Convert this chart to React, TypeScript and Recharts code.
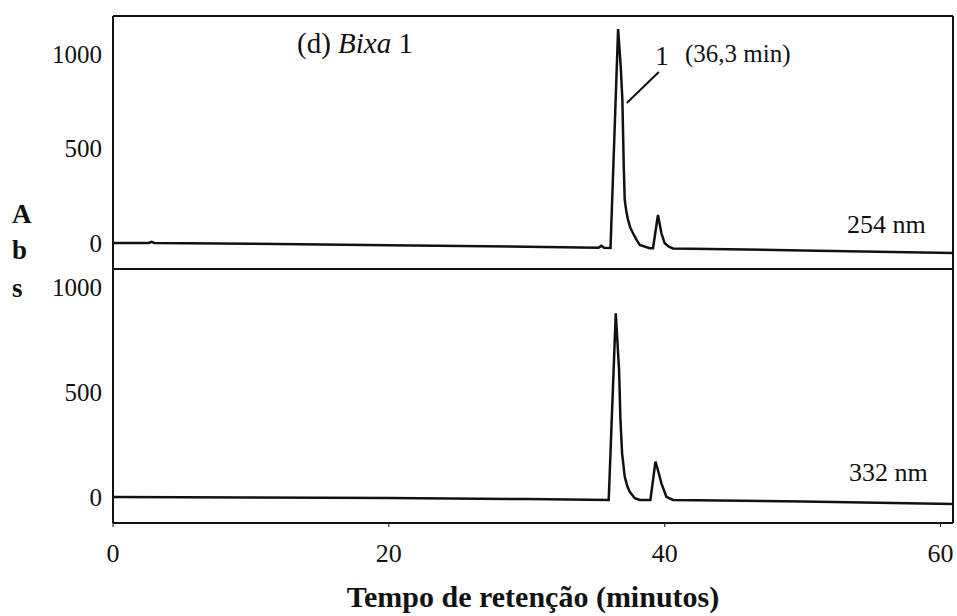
import React from "react";
import { LineChart, Line, XAxis, YAxis, ReferenceLine } from "recharts";

// retention time (min) and absorbance
const TIME_254 = [0, 2.6, 2.8, 3.0, 10, 20, 30, 35.2, 35.41, 35.6, 36.07, 36.62, 36.81, 36.93, 37.03, 37.1, 37.22, 37.34, 37.5, 37.7, 37.95, 38.19, 38.91, 39.15, 39.51, 39.76, 40.0, 40.3, 40.6, 50, 60.9];
const ABS_254 = [0, 0, 6, 0, -4, -12, -20, -25, -15, -26, -27, 1132, 933, 757, 404, 228, 165, 122, 82, 51, 18, -11, -28, -28, 148, 51, -2, -20, -29, -40, -53];

// same for the 332 nm trace
const TIME_332 = [0, 10, 20, 30, 35.94, 36.45, 36.69, 36.79, 36.91, 37.1, 37.28, 37.46, 37.83, 38.19, 38.96, 39.33, 39.57, 39.76, 40.12, 40.6, 50, 60.9];
const ABS_332 = [0, -2, -5, -10, -14, 875, 605, 367, 208, 97, 52, 25, -6, -14, -14, 168, 113, 65, 1, -14, -22, -33];

const X_TICKS = [0, 20, 40, 60];
const Y_TICKS = [0, 500, 1000];

const X_DOMAIN: [number, number] = [0, 60.9];
const TOP_DOMAIN: [number, number] = [-138, 1201];
const BOTTOM_DOMAIN: [number, number] = [-124, 1086];

const data254 = TIME_254.map((t, i) => ({ t, abs: ABS_254[i] }));
const data332 = TIME_332.map((t, i) => ({ t, abs: ABS_332[i] }));

const FONT = '"Liberation Serif", "Times New Roman", serif';
const INK = "#111";

const YTick = (props: any) => {
  const { x, y, payload } = props;
  return (
    <text x={x - 11} y={y} dy="0.36em" textAnchor="end" fontSize={25} fontFamily={FONT} fill={INK}>
      {payload.value}
    </text>
  );
};

const XTick = (props: any) => {
  const { x, y, payload } = props;
  return (
    <text x={x} y={y + 35} textAnchor="middle" fontSize={26} fontFamily={FONT} fill={INK}>
      {payload.value}
    </text>
  );
};

export default function App() {
  return (
    <div style={{ position: "absolute", left: 0, top: 0, width: 957, height: 616, background: "#fff" }}>
      {/* 254 nm panel */}
      <div style={{ position: "absolute", left: 0, top: 0 }}>
        <LineChart width={957} height={272} data={data254} margin={{ top: 16, right: 4, bottom: 3, left: 0 }}>
          <XAxis type="number" dataKey="t" domain={X_DOMAIN} hide />
          <YAxis
            type="number"
            domain={TOP_DOMAIN}
            ticks={Y_TICKS}
            width={113}
            tickSize={0}
            tickMargin={0}
            tickLine={false}
            axisLine={{ stroke: INK, strokeWidth: 2 }}
            tick={<YTick />}
          />
          <ReferenceLine y={TOP_DOMAIN[1]} stroke={INK} strokeWidth={2} />
          <ReferenceLine y={TOP_DOMAIN[0]} stroke={INK} strokeWidth={2} />
          <ReferenceLine x={X_DOMAIN[1]} stroke={INK} strokeWidth={2} />
          <ReferenceLine
            segment={[
              { x: 39.57, y: 905 },
              { x: 37.25, y: 741 },
            ]}
            stroke={INK}
            strokeWidth={2}
          />
          <Line
            type="linear"
            dataKey="abs"
            stroke={INK}
            strokeWidth={2.5}
            dot={false}
            isAnimationActive={false}
          />
        </LineChart>
      </div>

      {/* 332 nm panel */}
      <div style={{ position: "absolute", left: 0, top: 269 }}>
        <LineChart width={957} height={347} data={data332} margin={{ top: 0, right: 4, bottom: 0, left: 0 }}>
          <XAxis
            type="number"
            dataKey="t"
            domain={X_DOMAIN}
            ticks={X_TICKS}
            height={93}
            tickSize={4}
            tickMargin={0}
            tickLine={{ stroke: INK }}
            axisLine={{ stroke: INK, strokeWidth: 2 }}
            tick={<XTick />}
            label={{
              value: "Tempo de retenção (minutos)",
              position: "insideBottom",
              offset: 9,
              fontSize: 30,
              fontWeight: "bold",
              fontFamily: FONT,
              fill: INK,
            }}
          />
          <YAxis
            type="number"
            domain={BOTTOM_DOMAIN}
            ticks={Y_TICKS}
            width={113}
            tickSize={0}
            tickMargin={0}
            tickLine={false}
            axisLine={{ stroke: INK, strokeWidth: 2 }}
            tick={<YTick />}
          />
          <ReferenceLine x={X_DOMAIN[1]} stroke={INK} strokeWidth={2} />
          <Line
            type="linear"
            dataKey="abs"
            stroke={INK}
            strokeWidth={2.5}
            dot={false}
            isAnimationActive={false}
          />
        </LineChart>
      </div>

      {/* free text annotations */}
      <svg
        width={957}
        height={616}
        style={{ position: "absolute", left: 0, top: 0, pointerEvents: "none" }}
        fontFamily={FONT}
        fill={INK}
      >
        <text x={12} y={223} fontSize={27} fontWeight="bold">A</text>
        <text x={12} y={259} fontSize={27} fontWeight="bold">b</text>
        <text x={12} y={297} fontSize={27} fontWeight="bold">s</text>
        <text x={297} y={53} fontSize={29}>
          (d) <tspan fontStyle="italic">Bixa</tspan> 1
        </text>
        <text x={662} y={65} fontSize={27} textAnchor="middle">1</text>
        <text x={685} y={62} fontSize={25}>(36,3 min)</text>
        <text x={847} y={233} fontSize={26}>254 nm</text>
        <text x={849} y={481} fontSize={26}>332 nm</text>
      </svg>
    </div>
  );
}
